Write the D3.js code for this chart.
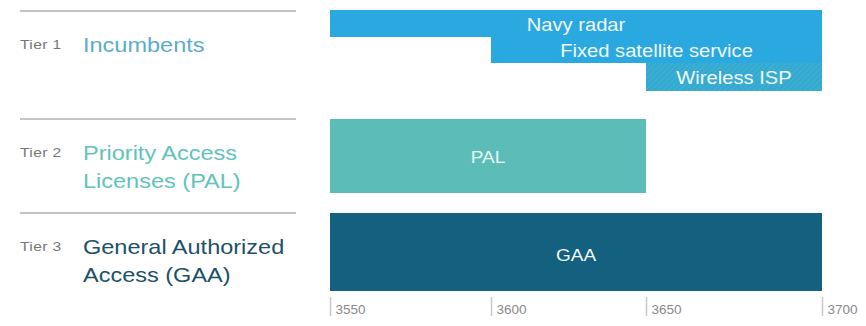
<!DOCTYPE html>
<html><head><meta charset="utf-8">
<script src="https://cdn.jsdelivr.net/npm/d3@7"></script>
<style>body{margin:0;background:#fff}svg{display:block}</style>
</head><body>
<script>
const bandNames = ["Navy radar","Fixed satellite service","Wireless ISP","PAL","GAA"];
const bandStart = [3550,3600,3650,3550,3550];
const bandEnd   = [3700,3700,3700,3650,3700];
const tierNames = ["Tier 1","Tier 2","Tier 3"];
const tierTitles = [["Incumbents"],["Priority Access","Licenses (PAL)"],["General Authorized","Access (GAA)"]];
const tickValues = [3550,3600,3650,3700];

const W=866,H=326;
const svg=d3.select("body").append("svg").attr("width",W).attr("height",H);
const font="'Liberation Sans', Arial, sans-serif";

const x=d3.scaleLinear().domain([3550,3600,3650,3700]).range([330,491,646,822]);
const yTop=d3.scaleOrdinal().domain(bandNames).range([10,37,63,119,213]);
const yH=d3.scaleOrdinal().domain(bandNames).range([27,26,28,74,78]);
const fills=d3.scaleOrdinal().domain(bandNames).range(["#2aa9e0","#2aa9e0","url(#hatch)","#5cbdb8","#14607f"]);
const labelShift=d3.scaleOrdinal().domain(bandNames).range([7,7,7,7,9]);
const tierY=d3.scaleOrdinal().domain(tierNames).range([11,119,213]);
const tierColor=d3.scaleOrdinal().domain(tierNames).range(["#5eabcc","#62c3bb","#1d5069"]);

const defs=svg.append("defs");
const pat=defs.append("pattern").attr("id","hatch").attr("patternUnits","userSpaceOnUse").attr("width",4).attr("height",4).attr("patternTransform","rotate(45)");
pat.append("rect").attr("width",4).attr("height",4).attr("fill","#34aad2");
pat.append("line").attr("x1",0).attr("y1",0).attr("x2",0).attr("y2",4).attr("stroke","#45b4d0").attr("stroke-width",1.5);

function stext(sel,x0,y0,sx){return sel.append("text").attr("transform",`translate(${x0},${y0}) scale(${sx},1)`);}

// separators and tier labels
tierNames.forEach((t,i)=>{
  const y0=tierY(t);
  svg.append("line").attr("x1",20).attr("x2",296).attr("y1",y0).attr("y2",y0).attr("stroke","#c4c4c4").attr("stroke-width",2);
  stext(svg,20,y0+38,1.25).attr("font-family",font).attr("font-size",12.5).attr("letter-spacing",0.3).attr("fill","#777").text(t);
  tierTitles[i].forEach((line,j)=>{
    stext(svg,83,y0+41+j*28,1.12).attr("font-family",font).attr("font-size",21).attr("fill",tierColor(t)).text(line);
  });
});

const data=bandNames.map((n,i)=>({name:n,s:bandStart[i],e:bandEnd[i]}));
svg.selectAll("rect.bar").data(data).join("rect").attr("class","bar")
  .attr("x",d=>x(d.s)).attr("y",d=>yTop(d.name)).attr("width",d=>x(d.e)-x(d.s)).attr("height",d=>yH(d.name))
  .attr("fill",d=>fills(d.name));
svg.selectAll("text.bl").data(data).join("text").attr("class","bl")
  .attr("transform",d=>`translate(${(x(d.s)+x(d.e))/2},${yTop(d.name)+yH(d.name)/2+labelShift(d.name)}) scale(1.12,1)`)
  .attr("text-anchor","middle").attr("font-family",font).attr("font-size",d=>d.name.length<4?17:18)
  .attr("fill",d=>d.name==="PAL"?"#e6fbf6":"#f2f8fb").text(d=>d.name);

// axis
const axis=d3.axisBottom(x).tickValues(tickValues).tickSize(0).tickFormat(d3.format("d"));
const g=svg.append("g").attr("transform","translate(0,297)").call(axis);
g.select(".domain").remove();
g.selectAll(".tick line").attr("y2",19).attr("stroke","#c8c8c8").attr("stroke-width",1.5);
g.selectAll(".tick text").attr("text-anchor","start").attr("x",5).attr("y",17).attr("dy",0)
  .attr("font-family",font).attr("font-size",13.5).attr("fill","#8a8a8a");
</script>
</body></html>
